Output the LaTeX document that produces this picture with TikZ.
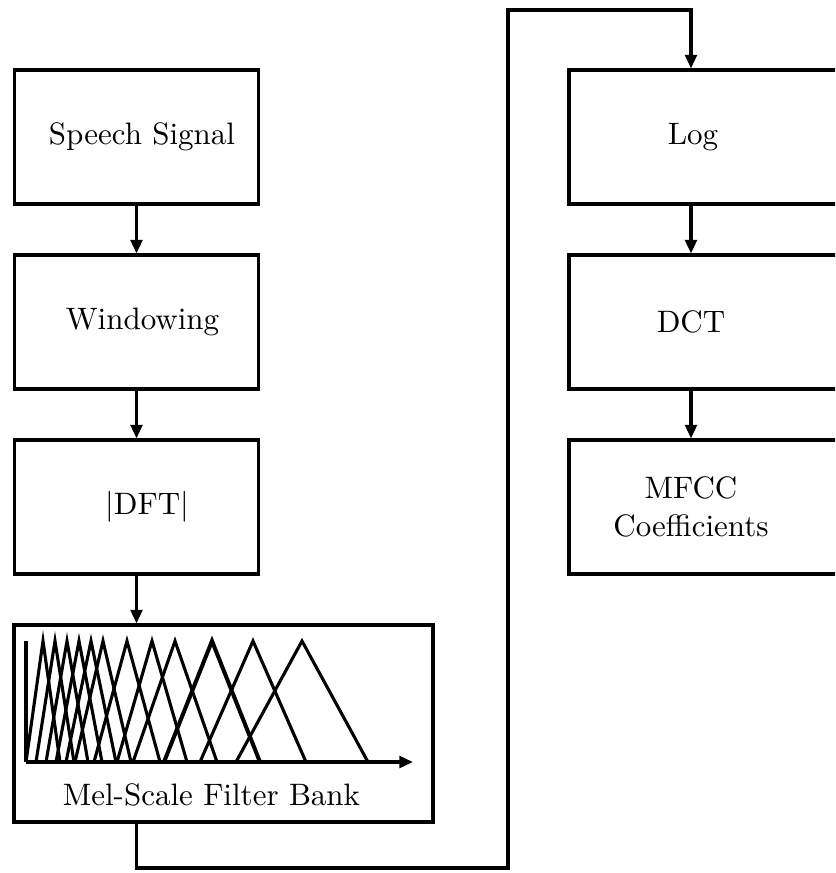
\documentclass[tikz,border=0pt]{standalone}
\usetikzlibrary{arrows.meta}
\newcommand\uu{0.3226pt}
\begin{document}
\begin{tikzpicture}[x=0.3226pt,y=-0.3226pt,
  box/.style={draw,line width=1pt,rectangle,inner sep=0pt},
  lbox/.style={box,minimum width=244*\uu,minimum height=134*\uu},
  rbox/.style={box,minimum width=300*\uu,minimum height=134*\uu},
  conn/.style={line width=1pt,-{Triangle[length=4.4pt,width=3.8pt]}},
  tri/.style={line width=1pt,line join=miter},
  lbl/.style={inner sep=0pt}]
\useasboundingbox (0,0) rectangle (835,873);
\clip (0,0) rectangle (835,873);
% left column
\node[lbox] (sig) at (136.5,137) {};
\node[lbl] (sigt) at (142,137) {Speech Signal};
\node[lbox] (win) at (136.5,322) {};
\node[lbl] (wint) at (142.5,322) {Windowing};
\node[lbox] (dft) at (136.5,507) {};
\node[lbl] (dftt) at (147,507) {$|$DFT$|$};
\node[box,minimum width=419*\uu,minimum height=197*\uu] (mel) at (223.5,723.5) {};
\node[lbl] (meltxt) at (211.5,795) {Mel-Scale Filter Bank};
% filter bank plot
\coordinate (o) at (26,762);
\coordinate (xend) at (413,762);
\coordinate (ytop) at (26,641);
\draw[tri] (ytop) -- (o);
\draw[line width=1pt,-{Triangle[length=4.4pt,width=3.8pt]}] (o) -- (xend);
\foreach \c/\w in {43/17,55/19,67/21,79/23,91/25,103/28,127/33,152/35,175/42,253/53,302/66}{
  \draw[tri] (\c-\w,762) -- (\c,641) -- (\c+\w,762);
}
\draw[tri,line width=1.3pt] (212-48,762) -- (212,641) -- (212+48,762);
% right column
\node[rbox] (log) at (719,137) {};
\node[lbl] (logt) at (693,137) {Log};
\node[rbox] (dct) at (719,322) {};
\node[lbl] (dctt) at (691,322) {DCT};
\node[rbox] (mfcc) at (719,507) {};
\node[lbl,align=center] (mfcct) at (691,507) {MFCC\\Coefficients};
% connectors
\coordinate (ax) at (691,0);
\draw[conn] (sig) -- (win);
\draw[conn] (win) -- (dft);
\draw[conn] (dft) -- (mel.north -| dft);
\coordinate (c1) at (508,868);
\coordinate (c2) at (508,10);
\draw[conn] (mel.south -| sig) |- (c1) -- (c2) -| (log.north -| ax);
\draw[conn] (log.south -| ax) -- (dct.north -| ax);
\draw[conn] (dct.south -| ax) -- (mfcc.north -| ax);
\end{tikzpicture}
\end{document}
